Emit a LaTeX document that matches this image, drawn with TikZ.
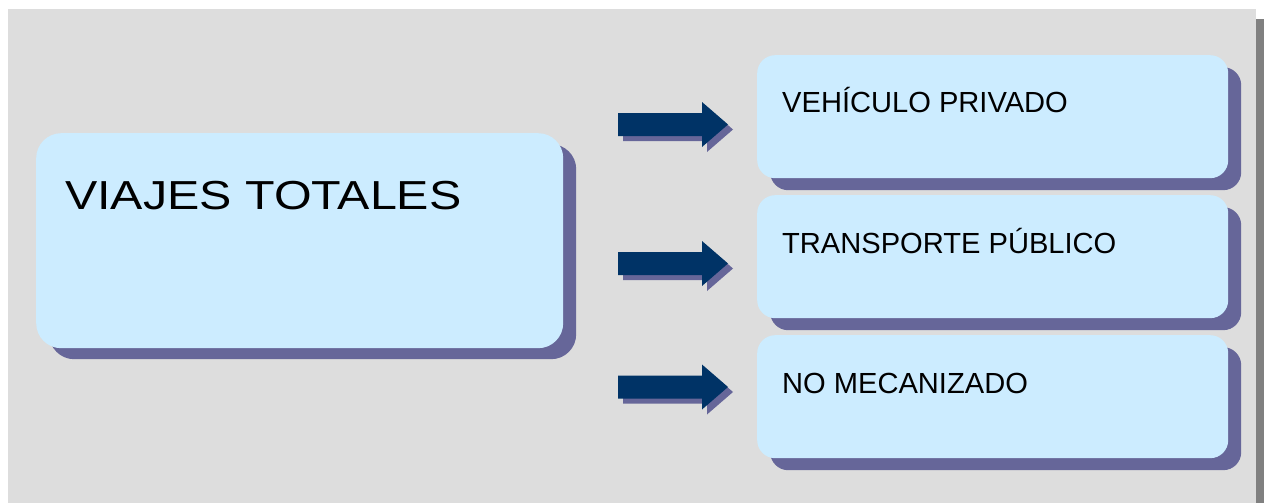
\documentclass[tikz,border=0pt]{standalone}
\usepackage{fontspec}
\usepackage{graphicx}
\setmainfont{Liberation Sans}
\definecolor{bggray}{HTML}{DDDDDD}
\definecolor{edgegray}{HTML}{808080}
\definecolor{boxblue}{HTML}{CCECFF}
\definecolor{shadowpurple}{HTML}{666699}
\definecolor{arrowblue}{HTML}{003366}
\begin{document}
\begin{tikzpicture}[x=1pt,y=-1pt,
  bigbox/.style={fill=boxblue,rounded corners=25pt,inner sep=0pt,minimum width=527pt,minimum height=215pt,anchor=north west},
  bigshadow/.style={fill=shadowpurple,rounded corners=25pt,inner sep=0pt,minimum width=527pt,minimum height=215pt,anchor=north west},
  smallbox/.style={fill=boxblue,rounded corners=18pt,inner sep=0pt,minimum width=471pt,minimum height=123pt,anchor=north west},
  smallshadow/.style={fill=shadowpurple,rounded corners=18pt,inner sep=0pt,minimum width=471pt,minimum height=123pt,anchor=north west},
  bigtext/.style={font=\fontsize{40.5}{48}\selectfont,inner sep=0pt,anchor=base west},
  smalltext/.style={font=\fontsize{29.1}{34}\selectfont,inner sep=0pt,anchor=base west},
  arrowbody/.style={fill=arrowblue},
  arrowshade/.style={fill=shadowpurple}]
\useasboundingbox (0,0) rectangle (1264,503);
\fill[white] (0,0) rectangle (1264,503);
\fill[bggray] (8,9) rectangle (1256,503);
\fill[edgegray] (1256,19) rectangle (1264,503);

% big box
\node[bigshadow] (vts) at (49,144) {};
\node[bigbox] (vt) at (36,133) {};
\node[bigtext] (vtt) at (65,209) {\scalebox{1.195}[1]{VIAJES TOTALES}};

% small boxes
\node[smallshadow] (b1s) at (770,67) {};
\node[smallbox] (b1) at (757,55) {};
\node[smalltext] (b1t) at (782,113) {VEHÍCULO PRIVADO};

\node[smallshadow] (b2s) at (770,207) {};
\node[smallbox] (b2) at (757,195) {};
\node[smalltext] (b2t) at (782,253) {TRANSPORTE PÚBLICO};

\node[smallshadow] (b3s) at (770,347) {};
\node[smallbox] (b3) at (757,335) {};
\node[smalltext] (b3t) at (782,393) {NO MECANIZADO};

% block arrows (shadow then arrow)
\foreach \yc/\nm in {124.5/a1,263.5/a2,387/a3}{
  \coordinate (\nm) at (618,\yc);
  \coordinate (\nm s) at (623,\yc+5);
  \fill[arrowshade] (\nm s) ++(0,-11.5) -- ++(84,0) -- ++(0,-11) -- ++(26,22.5) -- ++(-26,22.5) -- ++(0,-11) -- ++(-84,0) -- cycle;
  \fill[arrowbody] (\nm) ++(0,-11.5) -- ++(84,0) -- ++(0,-11) -- ++(26,22.5) -- ++(-26,22.5) -- ++(0,-11) -- ++(-84,0) -- cycle;
}
\end{tikzpicture}
\end{document}
